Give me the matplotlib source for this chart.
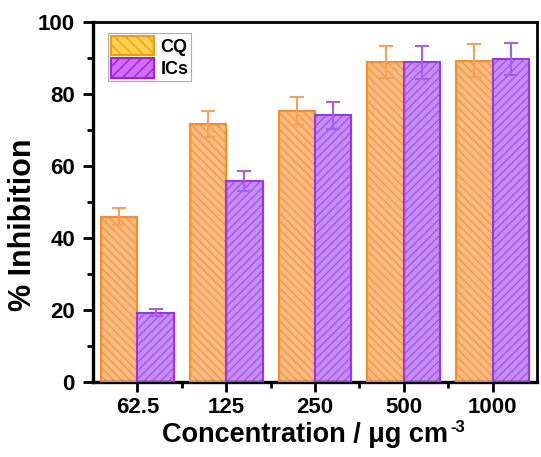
import matplotlib
matplotlib.use("Agg")
import matplotlib.pyplot as plt
import numpy as np
from matplotlib.patches import Patch
from matplotlib.ticker import MultipleLocator, FixedLocator

categories = ["62.5", "125", "250", "500", "1000"]
cq_values = [45.9, 71.7, 75.4, 88.9, 89.3]
cq_errors = [2.3, 3.6, 3.9, 4.4, 4.5]
ics_values = [19.3, 55.8, 74.1, 88.8, 89.8]
ics_errors = [1.0, 2.8, 3.7, 4.5, 4.5]

plt.rcParams['font.family'] = ['Liberation Sans', 'DejaVu Sans']
plt.rcParams['font.weight'] = 'bold'
plt.rcParams['hatch.linewidth'] = 1.0

fig = plt.figure(figsize=(5.41, 4.57), dpi=100)
ax = fig.add_axes([93/541, 1 - 382/457, (537 - 93)/541, (382 - 22)/457])

x = np.arange(1, len(categories) + 1)
w = 0.41

orange_face = "#F7BA80"
orange_edge = "#FF8C1A"
purple_face = "#C68DF2"
purple_edge = "#A030F5"

ax.bar(x - w/2, cq_values, w, color=orange_face, edgecolor="#F09A4A", hatch="\\\\\\\\", linewidth=0, zorder=2)
ax.bar(x - w/2, cq_values, w, facecolor="none", edgecolor=orange_edge, linewidth=1.5, zorder=3)
ax.bar(x + w/2, ics_values, w, color=purple_face, edgecolor="#A458EA", hatch="////", linewidth=0, zorder=2)
ax.bar(x + w/2, ics_values, w, facecolor="none", edgecolor=purple_edge, linewidth=1.5, zorder=3)

ax.errorbar(x - w/2, cq_values, yerr=cq_errors, fmt="none", ecolor="#F5A25A", elinewidth=1.5,
            capsize=5, capthick=1.5, zorder=4)
ax.errorbar(x + w/2, ics_values, yerr=ics_errors, fmt="none", ecolor="#A95CF0", elinewidth=1.5,
            capsize=5, capthick=1.5, zorder=4)

ax.set_xlim(0.5, 5.5)
ax.set_ylim(0, 100)
ax.set_xticks(x)
ax.set_xticklabels(categories)
ax.xaxis.set_minor_locator(FixedLocator([1.5, 2.5, 3.5, 4.5]))
ax.yaxis.set_major_locator(MultipleLocator(20))
ax.yaxis.set_minor_locator(MultipleLocator(10))

for name, s in ax.spines.items():
    s.set_linewidth(2.4 if name in ("left", "bottom") else 2.0)
ax.tick_params(axis='x', which='major', length=7, width=2, labelsize=16, direction='out', pad=3.5)
ax.tick_params(axis='y', which='major', length=7.5, width=2, labelsize=16, direction='out', pad=5.5)
ax.tick_params(axis='both', which='minor', length=4, width=2, direction='out')
for lab in ax.get_xticklabels() + ax.get_yticklabels():
    lab.set_fontweight('bold')

ax.set_xlabel("Concentration / μg cm", fontsize=19.5, fontweight='bold')
ax.xaxis.set_label_coords((305 - 93) / 444, (382 - 435) / 360)
ax.xaxis.label.set_va('center')
ax.set_ylabel("% Inhibition", fontsize=22, fontweight='bold')
ax.yaxis.set_label_coords((23 - 93) / 444, (382 - 225) / 360)
ax.yaxis.label.set_va('center')

fig.canvas.draw()
bb = ax.xaxis.label.get_window_extent()
fig.text((bb.x1 + 2) / 541, (bb.y1 + 2) / 457, "-3", fontsize=12, fontweight='bold',
         ha='left', va='top')

handles = [
    Patch(facecolor="#FFD34D", edgecolor="#F59A10", hatch="\\\\\\", linewidth=1.5),
    Patch(facecolor="#D56CF2", edgecolor="#9B1FE8", hatch="///", linewidth=1.5),
]
leg = ax.legend(handles, ["CQ", "ICs"], loc="upper left", bbox_to_anchor=((108 - 93) / 444, (382 - 33) / 360),
                prop={'size': 13, 'weight': 'bold'}, frameon=True, fancybox=False,
                handlelength=2.4, handleheight=1.3, handletextpad=0.35, borderpad=0.15,
                labelspacing=0.15, borderaxespad=0.0)
leg.get_frame().set_edgecolor("#999999")
leg.get_frame().set_linewidth(0.8)

fig.savefig("out.png", dpi=100)
